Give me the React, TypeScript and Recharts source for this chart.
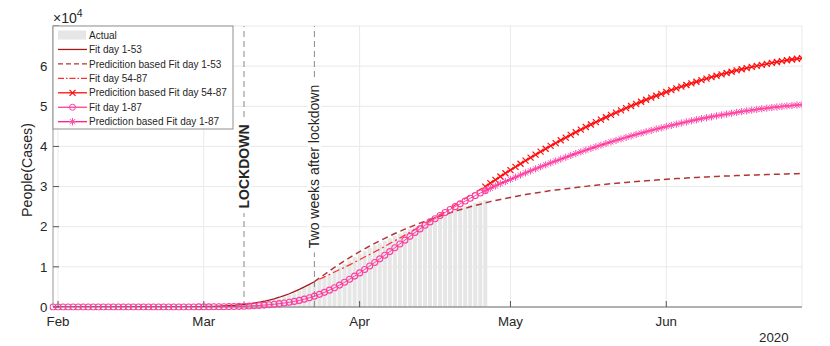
import React from "react";
import { ComposedChart, Bar, Line, XAxis, YAxis, CartesianGrid, ReferenceLine } from "recharts";

// day 0 = 31 Jan 2020, last day = 28 Jun 2020
const DAY_COUNT = 150;
const monthTicks = [1, 30, 61, 91, 122];
const monthLabels = ["Feb", "Mar", "Apr", "May", "Jun"];
const yTicks = [0, 10000, 20000, 30000, 40000, 50000, 60000, 70000];
const lockdownDay = 38;
const twoWeeksDay = 52;

// actual cumulative counts, day 0..86
const actual = [
  0, 0, 0, 0, 0, 0, 0, 0, 0, 0, 0, 0, 0, 0, 0, 0, 0, 0, 0, 0, 0,
  1, 2, 3, 7, 10, 12, 17, 21, 29, 34, 52, 79, 107, 148, 197, 233, 366, 463, 631,
  827, 1016, 1266, 1441, 1809, 2158, 2503, 2978, 3405, 4032, 4825, 5476, 6077,
  6820, 7503, 8165, 9134, 10023, 10779, 11591, 12428, 13155, 13915, 14681, 15362,
  15887, 16523, 17127, 17669, 18279, 18849, 19468, 19899, 20465, 21067, 21645,
  22170, 22745, 23227, 23660, 24114, 24648, 25085, 25549, 25969, 26384, 26644,
];

// fit day 1-53, day 0..52
const fit1to53 = [
  0, 0, 0, 0, 0, 0, 0, 0, 0, 0, 0, 0, 0, 0, 0, 0, 0,
  2, 3, 4, 6, 8, 11, 15, 20, 27, 35, 45, 60, 80, 100, 130, 160, 210, 260, 330,
  420, 520, 640, 790, 970, 1180, 1430, 1720, 2050, 2430, 2850, 3300, 3850, 4400,
  5000, 5650, 6300,
];

// prediction from fit 1-53, day 52..149
const pred1to53 = [
  6300, 7200, 8100, 9000, 9850, 10700, 11500, 12300, 13050, 13800,
  14500, 15200, 15850, 16500, 17100, 17700, 18300, 18850, 19400, 19900,
  20400, 20900, 21350, 21800, 22200, 22650, 23050, 23450, 23850, 24250,
  24600, 24950, 25300, 25600, 25950, 26250, 26550, 26800, 27050, 27300,
  27550, 27800, 28000, 28200, 28400, 28600, 28800, 29000, 29150, 29300,
  29450, 29600, 29750, 29900, 30050, 30200, 30330, 30460, 30580, 30700,
  30820, 30930, 31040, 31150, 31250, 31350, 31450, 31550, 31640, 31730,
  31820, 31900, 31980, 32060, 32130, 32200, 32270, 32340, 32400, 32460,
  32520, 32580, 32630, 32680, 32730, 32780, 32830, 32870, 32910, 32950,
  32990, 33030, 33070, 33110, 33150, 33180, 33210, 33240,
];

// fit day 54-87, day 53..86
const fit54to87 = [
  6900, 7500, 8100, 8700, 9300, 9900, 10500, 11150, 11800, 12450, 13100, 13750,
  14400, 15100, 15800, 16500, 17200, 17900, 18600, 19300, 20050, 20800, 21550,
  22300, 23050, 23800, 24600, 25400, 26200, 27000, 27800, 28600, 29300, 30000,
];

// prediction from fit 54-87, day 86..149
const pred54to87 = [
  30000, 30840, 31680, 32500, 33310, 34110, 34900, 35680, 36450, 37210,
  37960, 38690, 39420, 40130, 40840, 41530, 42210, 42880, 43540, 44190,
  44830, 45460, 46070, 46680, 47270, 47860, 48430, 48990, 49540, 50080,
  50610, 51130, 51640, 52140, 52620, 53100, 53560, 54020, 54460, 54890,
  55310, 55720, 56120, 56510, 56890, 57250, 57610, 57960, 58290, 58610,
  58930, 59230, 59520, 59800, 60070, 60330, 60570, 60810, 61040, 61250,
  61460, 61650, 61830, 62000,
];

// fit day 1-87, day 0..86
const fit1to87 = [
  0, 0, 0, 0, 0, 0, 0, 0, 0, 0, 0, 0, 0, 0, 0, 0, 0, 0, 0, 0, 0, 0, 0, 0,
  5, 7, 10, 12, 16, 20, 30, 40, 50, 60, 80, 100, 130, 160, 200, 250, 310, 380,
  470, 570, 690, 830, 990, 1180, 1400, 1650, 1950, 2300, 2700, 3150, 3650, 4200,
  4800, 5450, 6150, 6900, 7700, 8500, 9350, 10200, 11100, 12000, 12900, 13800,
  14750, 15700, 16650, 17600, 18550, 19450, 20350, 21200, 22000, 22800, 23550,
  24300, 25000, 25700, 26400, 27100, 27750, 28400, 29000,
];

// prediction from fit 1-87, day 86..149
const pred1to87 = [
  29000, 29580, 30150, 30710, 31260, 31800, 32340, 32870, 33400, 33910,
  34420, 34920, 35410, 35900, 36370, 36840, 37300, 37760, 38210, 38640,
  39080, 39500, 39920, 40320, 40730, 41120, 41500, 41880, 42250, 42620,
  42970, 43320, 43660, 43990, 44320, 44630, 44940, 45240, 45540, 45820,
  46100, 46380, 46640, 46900, 47140, 47380, 47620, 47840, 48060, 48270,
  48480, 48670, 48860, 49040, 49210, 49380, 49530, 49680, 49820, 49960,
  50080, 50200, 50310, 50420,
];

const pick = (arr: number[], start: number, d: number) =>
  d >= start && d < start + arr.length ? arr[d - start] : null;

const rows = Array.from({ length: DAY_COUNT }, (_, d) => ({
  d,
  actual: pick(actual, 0, d),
  f1: pick(fit1to53, 0, d),
  p1: pick(pred1to53, 52, d),
  f2: pick(fit54to87, 53, d),
  p2: pick(pred54to87, 86, d),
  f3: pick(fit1to87, 0, d),
  p3: pick(pred1to87, 86, d),
}));

const C = {
  bar: "#e6e6e6",
  f1: "#a31a1a",
  p1: "#b23535",
  f2: "#ff2e2e",
  p2: "#ff0d0d",
  f3: "#ff3d9e",
  p3: "#ff1a8c",
  p3mark: "#ff4aa8",
  text: "#262626",
  box: "#a3a3a3",
  vline: "#8a8a8a",
};

const ok = (v: any) => typeof v === "number" && isFinite(v);

const XMark = (props: any) => {
  const { cx, cy, index } = props;
  if (!ok(cx) || !ok(cy)) return <g key={index} />;
  const s = 3;
  return (
    <g key={index} stroke={C.p2} strokeWidth={1.2}>
      <line x1={cx - s} y1={cy - s} x2={cx + s} y2={cy + s} />
      <line x1={cx - s} y1={cy + s} x2={cx + s} y2={cy - s} />
    </g>
  );
};

const StarMark = (props: any) => {
  const { cx, cy, index } = props;
  if (!ok(cx) || !ok(cy)) return <g key={index} />;
  const s = 3.6;
  const k = 2.6;
  return (
    <g key={index} stroke={C.p3mark} strokeWidth={1}>
      <line x1={cx - s} y1={cy} x2={cx + s} y2={cy} />
      <line x1={cx} y1={cy - s} x2={cx} y2={cy + s} />
      <line x1={cx - k} y1={cy - k} x2={cx + k} y2={cy + k} />
      <line x1={cx - k} y1={cy + k} x2={cx + k} y2={cy - k} />
    </g>
  );
};

const VLabel = (props: any) => {
  const { viewBox, text, bold, len } = props;
  if (!viewBox) return null;
  const cx = viewBox.x;
  const cy = viewBox.y + viewBox.height / 2;
  return (
    <g>
      <rect x={cx - 7} y={cy - len / 2 - 4} width={14} height={len + 8} fill="#fff" />
      <text
        transform={`translate(${cx + 5},${cy}) rotate(-90)`}
        textAnchor="middle"
        fontSize={14}
        fontWeight={bold ? "bold" : "normal"}
        fill={C.text}
      >
        {text}
      </text>
    </g>
  );
};

const legendItems = [
  { name: "Actual", kind: "patch" },
  { name: "Fit day 1-53", kind: "line", color: C.f1 },
  { name: "Predicition based Fit day 1-53", kind: "line", color: C.p1, dash: "5 3" },
  { name: "Fit day 54-87", kind: "line", color: C.f2, dash: "6 2 1.5 2" },
  { name: "Predicition based Fit day 54-87", kind: "line", color: C.p2, mark: "x" },
  { name: "Fit day 1-87", kind: "line", color: C.f3, mark: "o" },
  { name: "Prediction based Fit day 1-87", kind: "line", color: C.p3, mark: "*" },
];

function ChartLegend() {
  return (
    <svg
      width={182}
      height={105}
      style={{ position: "absolute", left: 52, top: 25 }}
    >
      <rect x={1} y={1} width={180} height={103} fill="#fff" stroke="#8f8f8f" />
      {legendItems.map((it, i) => {
        const y = 10 + i * 14.45;
        return (
          <g key={it.name}>
            {it.kind === "patch" ? (
              <rect x={6} y={y - 4.5} width={28} height={9} fill={C.bar} />
            ) : (
              <line x1={6} y1={y} x2={35} y2={y} stroke={it.color} strokeWidth={1.3} strokeDasharray={it.dash} />
            )}
            {it.mark === "o" && <circle cx={20.5} cy={y} r={3} fill="none" stroke={C.f3} />}
            {it.mark === "x" && XMark({ cx: 20.5, cy: y, index: "lx" })}
            {it.mark === "*" && StarMark({ cx: 20.5, cy: y, index: "ls" })}
            <text x={37} y={y + 3.6} fontSize={10} fill={C.text}>
              {it.name}
            </text>
          </g>
        );
      })}
    </svg>
  );
}

export default function App() {
  return (
    <div
      style={{
        position: "fixed",
        left: 0,
        top: 0,
        width: 830,
        height: 346,
        background: "#fff",
        fontFamily: '"Liberation Sans", Arial, sans-serif',
      }}
    >
      <ComposedChart
        width={830}
        height={346}
        data={rows}
        margin={{ top: 26, right: 28, bottom: 9, left: 13 }}
        barCategoryGap="10%"
      >
        <CartesianGrid stroke="#e9e9e9" />
        <XAxis
          dataKey="d"
          type="number"
          domain={[0, DAY_COUNT - 1]}
          ticks={monthTicks}
          interval={0}
          allowDataOverflow
          height={30}
          tickSize={-6}
          tickMargin={16}
          axisLine={{ stroke: "#6e6e6e" }}
          tickLine={{ stroke: "#555" }}
          tick={{ fill: C.text, fontSize: 13.3 }}
          tickFormatter={(v: number) => monthLabels[monthTicks.indexOf(v)] ?? ""}
        />
        <XAxis
          xAxisId="top"
          orientation="top"
          dataKey="d"
          type="number"
          domain={[0, DAY_COUNT - 1]}
          ticks={monthTicks}
          interval={0}
          allowDataOverflow
          height={0}
          tickSize={-6}
          axisLine={{ stroke: C.box }}
          tickLine={{ stroke: "#555" }}
          tick={() => <g />}
        />
        <YAxis
          type="number"
          domain={[0, 70000]}
          ticks={yTicks}
          interval={0}
          allowDataOverflow
          width={40}
          tickSize={-6}
          tickMargin={11.5}
          axisLine={{ stroke: C.box }}
          tickLine={{ stroke: "#555" }}
          tick={{ fill: C.text, fontSize: 13.3 }}
          tickFormatter={(v: number) => (v >= 70000 ? "" : String(v / 10000))}
        />
        <YAxis
          yAxisId="right"
          orientation="right"
          type="number"
          domain={[0, 70000]}
          ticks={yTicks}
          interval={0}
          allowDataOverflow
          width={0}
          tickSize={-6}
          axisLine={{ stroke: C.box }}
          tickLine={{ stroke: "#555" }}
          tick={() => <g />}
        />
        <Bar dataKey="actual" fill={C.bar} isAnimationActive={false} />
        <ReferenceLine
          x={lockdownDay}
          stroke={C.vline}
          strokeDasharray="6 4"
          label={<VLabel text="LOCKDOWN" bold len={85} />}
        />
        <ReferenceLine
          x={twoWeeksDay}
          stroke={C.vline}
          strokeDasharray="6 4"
          label={<VLabel text="Two weeks after lockdown" len={164} />}
        />
        <Line dataKey="f1" stroke={C.f1} strokeWidth={1.3} dot={false} isAnimationActive={false} />
        <Line dataKey="p1" stroke={C.p1} strokeWidth={1.5} strokeDasharray="6 4" dot={false} isAnimationActive={false} />
        <Line dataKey="f2" stroke={C.f2} strokeWidth={1.2} strokeDasharray="7 3 2 3" dot={false} isAnimationActive={false} />
        <Line dataKey="p2" stroke={C.p2} strokeWidth={1.4} dot={XMark} isAnimationActive={false} />
        <Line
          dataKey="f3"
          stroke={C.f3}
          strokeWidth={1}
          dot={{ r: 3, fill: "none", stroke: C.f3, strokeWidth: 1.1, clipDot: false }}
          isAnimationActive={false}
        />
        <Line dataKey="p3" stroke={C.p3} strokeWidth={1.4} dot={StarMark} isAnimationActive={false} />
      </ComposedChart>

      <ChartLegend />

      <svg width={830} height={346} style={{ position: "absolute", left: 0, top: 0, pointerEvents: "none" }}>
        <text transform="translate(32,170) rotate(-90)" textAnchor="middle" fontSize={14.2} fill={C.text}>
          People(Cases)
        </text>
        <text x={53} y={23} fontSize={14} fill={C.text}>
          ×10
          <tspan dy={-6} fontSize={10.5}>
            4
          </tspan>
        </text>
        <text x={759} y={342} fontSize={13.3} fill={C.text}>
          2020
        </text>
      </svg>
    </div>
  );
}
